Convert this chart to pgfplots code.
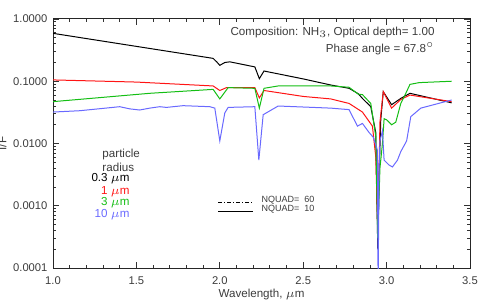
\documentclass[border=0pt]{standalone}
\usepackage{pgfplots}
\pgfplotsset{compat=1.18}
\usepackage{fontspec}
\setmainfont{Liberation Sans}
\definecolor{cblack}{RGB}{0,0,0}
\definecolor{cred}{RGB}{255,20,20}
\definecolor{cgreen}{RGB}{20,190,20}
\definecolor{cblue}{RGB}{105,105,255}
\definecolor{txt}{RGB}{60,60,60}
\begin{document}
\begin{tikzpicture}
\begin{axis}[
  at={(0,0)}, anchor=south west,
  scale only axis, width=208.5pt, height=124.5pt,
  xmin=1, xmax=3.5, ymin=1e-4, ymax=1,
  ymode=log,
  xtick={1,1.5,2,2.5,3,3.5},
  xticklabels={1.0,1.5,2.0,2.5,3.0,3.5},
  minor x tick num=4,
  ytick={1e-4,1e-3,1e-2,1e-1,1},
  yticklabels={0.0001,0.0010,0.0100,0.1000,1.0000},
  tick align=inside,
  major tick length=2.8pt, minor tick length=1.6pt,
  every tick/.style={black!80, line width=0.4pt},
  axis line style={black!85, line width=0.5pt},
  tick label style={font=\fontsize{5.6}{6.5}\selectfont, text=txt},
  /pgf/number format/assume math mode=true,
  xticklabel style={yshift=-1pt},
  yticklabel style={xshift=0.8pt},
  xlabel={Wavelength, $\mu$m},
  xlabel style={font=\fontsize{5.8}{7}\selectfont, text=txt, at={(axis description cs:0.5,-0.105)}, anchor=center},
  ylabel={I/F},
  ylabel style={font=\fontsize{5.8}{7}\selectfont, text=txt, at={(axis description cs:-0.122,0.5)}, anchor=center},
  line width=0.5pt,
  clip=true,
]
% 0.3 micron
\addplot[cblack, line width=0.5pt] coordinates {
(1.00,0.588) (1.50,0.363) (1.96,0.233) (1.985,0.20) (2.00,0.18) (2.03,0.20) (2.06,0.205)
(2.21,0.17) (2.237,0.11) (2.265,0.146) (2.50,0.109) (2.665,0.087) (2.775,0.077)
(2.83,0.063) (2.855,0.053) (2.905,0.039) (2.935,0.015) (2.947,0.0002) (2.955,0.003)
(2.965,0.024) (2.98,0.068) (3.03,0.042) (3.085,0.053) (3.14,0.064) (3.39,0.045)
};
% 1 micron
\addplot[cred, line width=0.5pt] coordinates {
(1.00,0.105) (1.50,0.097) (1.96,0.084) (2.00,0.071) (2.04,0.079) (2.21,0.079)
(2.237,0.054) (2.265,0.071) (2.50,0.057) (2.665,0.052) (2.775,0.044) (2.855,0.032)
(2.915,0.019) (2.935,0.0061) (2.947,0.0004) (2.955,0.004) (2.96,0.022) (2.98,0.068)
(3.03,0.037) (3.085,0.051) (3.14,0.060) (3.39,0.047)
};
% 3 micron
\addplot[cgreen, line width=0.5pt] coordinates {
(1.00,0.047) (1.58,0.064) (1.96,0.074) (2.00,0.052) (2.05,0.079) (2.21,0.077)
(2.237,0.037) (2.265,0.077) (2.35,0.084) (2.665,0.084) (2.775,0.080) (2.83,0.062)
(2.855,0.061) (2.905,0.044) (2.935,0.013) (2.947,0.0003) (2.96,0.004) (2.975,0.010)
(2.985,0.025) (3.00,0.024) (3.03,0.020) (3.055,0.022) (3.085,0.044) (3.115,0.064)
(3.14,0.089) (3.195,0.095) (3.39,0.100)
};
% 10 micron
\addplot[cblue, line width=0.5pt] coordinates {
(1.00,0.032) (1.16,0.0336) (1.40,0.039) (1.46,0.036) (1.52,0.0345) (1.58,0.037)
(1.64,0.039) (1.68,0.038) (1.78,0.0405) (1.94,0.039) (1.97,0.037) (2.00,0.011)
(2.03,0.031) (2.05,0.038) (2.21,0.039) (2.234,0.0054) (2.26,0.029) (2.35,0.040)
(2.665,0.037) (2.775,0.035) (2.825,0.019) (2.855,0.021) (2.895,0.015) (2.92,0.0126)
(2.945,0.0078) (2.949,0.00005) (2.955,0.004) (2.96,0.011) (2.975,0.016) (2.985,0.0054)
(3.015,0.0045) (3.035,0.0042) (3.065,0.0054) (3.085,0.0074) (3.12,0.011) (3.145,0.027)
(3.205,0.037) (3.325,0.045) (3.39,0.050)
};
% annotations
\node[anchor=east, font=\fontsize{5.8}{7}\selectfont, text=txt, inner sep=0pt] at (axis description cs:0.916,0.946) {Composition: NH$_3$, Optical depth= 1.00};
\node[anchor=east, font=\fontsize{5.8}{7}\selectfont, text=txt, inner sep=0pt] at (axis description cs:0.916,0.882) {Phase angle = 67.8$^\circ$};
\node[anchor=west, font=\fontsize{5.8}{7}\selectfont, text=txt, inner sep=0pt] at (axis description cs:0.1175,0.454) {particle};
\node[anchor=west, font=\fontsize{5.8}{7}\selectfont, text=txt, inner sep=0pt] at (axis description cs:0.1175,0.406) {radius};
\node[anchor=east, font=\fontsize{5.8}{7}\selectfont, text=black, inner sep=0pt] at (axis description cs:0.1847,0.357) {0.3 $\mu$m};
\node[anchor=east, font=\fontsize{5.8}{7}\selectfont, text=cred, inner sep=0pt] at (axis description cs:0.1847,0.306) {1 $\mu$m};
\node[anchor=east, font=\fontsize{5.8}{7}\selectfont, text=cgreen, inner sep=0pt] at (axis description cs:0.1847,0.261) {3 $\mu$m};
\node[anchor=east, font=\fontsize{5.8}{7}\selectfont, text=cblue, inner sep=0pt] at (axis description cs:0.1847,0.213) {10 $\mu$m};
\draw[black, line width=0.45pt, dash pattern=on 2pt off 1pt on 0.5pt off 1pt] (axis description cs:0.396,0.265) -- (axis description cs:0.480,0.265);
\draw[black, line width=0.45pt] (axis description cs:0.396,0.226) -- (axis description cs:0.480,0.226);
\node[anchor=west, font=\fontsize{4.5}{5}\selectfont, text=txt, inner sep=0pt] at (axis description cs:0.499,0.273) {NQUAD=\ \ 60};
\node[anchor=west, font=\fontsize{4.5}{5}\selectfont, text=txt, inner sep=0pt] at (axis description cs:0.499,0.235) {NQUAD=\ \ 10};
\end{axis}
\pgfresetboundingbox
\useasboundingbox (-26.5pt,-17.5pt) rectangle (216pt,134pt);
\end{tikzpicture}
\end{document}
